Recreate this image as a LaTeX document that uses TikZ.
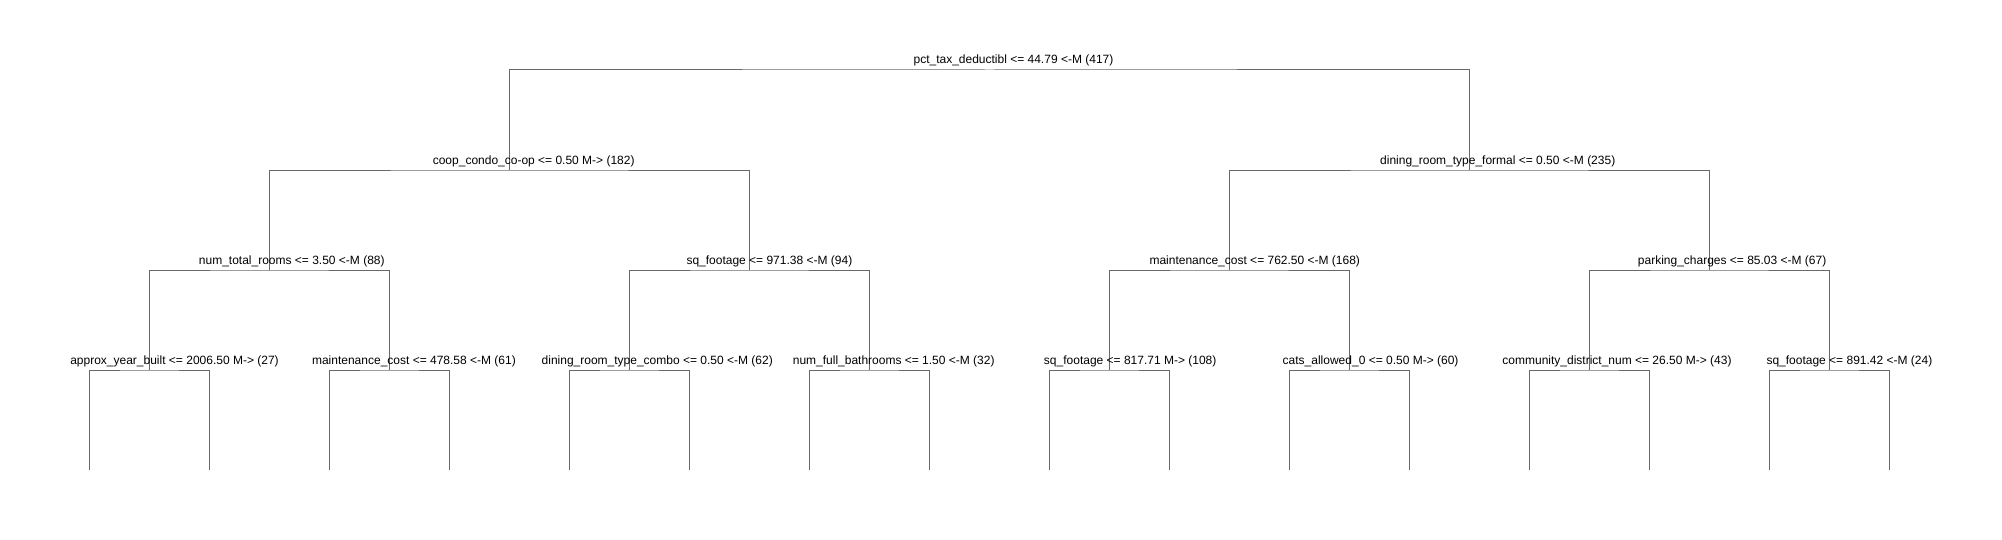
\documentclass[tikz,border=0pt]{standalone}
\usepackage{fontspec}
\newfontfamily\treefont{Liberation Sans}
\definecolor{branchgray}{RGB}{105,105,105}
% split text sits a little right of its split point
\newcommand{\splittext}[1]{\setbox0=\hbox{#1}\hspace*{0.24\wd0}\box0}
\tikzset{
  branch/.style={draw=branchgray, line width=0.5pt},
  splitlabel/.style={anchor=base, inner sep=0pt, text=black,
    font=\treefont\fontsize{6}{7}\selectfont}
}
\begin{document}
\begin{tikzpicture}[x=0.5pt, y=-0.5pt]
    \useasboundingbox (0,0) rectangle (2002,540);
    % split points
    \coordinate (root) at (989.5,70);
    \coordinate (coop) at (509.5,170);
    \coordinate (dining) at (1469.5,170);
    \coordinate (rooms) at (269.5,270);
    \coordinate (sqft) at (749.5,270);
    \coordinate (maint) at (1229.5,270);
    \coordinate (parking) at (1709.5,270);
    \coordinate (year) at (149.5,370);
    \coordinate (maintlow) at (389.5,370);
    \coordinate (combo) at (629.5,370);
    \coordinate (baths) at (869.5,370);
    \coordinate (sqftlow) at (1109.5,370);
    \coordinate (cats) at (1349.5,370);
    \coordinate (district) at (1589.5,370);
    \coordinate (sqfthigh) at (1829.5,370);
    % leaves
    \coordinate (l1) at (89.5,470);
    \coordinate (l2) at (209.5,470);
    \coordinate (l3) at (329.5,470);
    \coordinate (l4) at (449.5,470);
    \coordinate (l5) at (569.5,470);
    \coordinate (l6) at (689.5,470);
    \coordinate (l7) at (809.5,470);
    \coordinate (l8) at (929.5,470);
    \coordinate (l9) at (1049.5,470);
    \coordinate (l10) at (1169.5,470);
    \coordinate (l11) at (1289.5,470);
    \coordinate (l12) at (1409.5,470);
    \coordinate (l13) at (1529.5,470);
    \coordinate (l14) at (1649.5,470);
    \coordinate (l15) at (1769.5,470);
    \coordinate (l16) at (1889.5,470);
    % branches
    \draw[branch] (coop) |- (root) -| (dining);
    \draw[branch] (rooms) |- (coop) -| (sqft);
    \draw[branch] (maint) |- (dining) -| (parking);
    \draw[branch] (year) |- (rooms) -| (maintlow);
    \draw[branch] (combo) |- (sqft) -| (baths);
    \draw[branch] (sqftlow) |- (maint) -| (cats);
    \draw[branch] (district) |- (parking) -| (sqfthigh);
    \draw[branch] (l1) |- (year) -| (l2);
    \draw[branch] (l3) |- (maintlow) -| (l4);
    \draw[branch] (l5) |- (combo) -| (l6);
    \draw[branch] (l7) |- (baths) -| (l8);
    \draw[branch] (l9) |- (sqftlow) -| (l10);
    \draw[branch] (l11) |- (cats) -| (l12);
    \draw[branch] (l13) |- (district) -| (l14);
    \draw[branch] (l15) |- (sqfthigh) -| (l16);
    % split texts
    \node[splitlabel] (root-t) at ([yshift=3pt]root) {\splittext{pct\_tax\_deductibl <= 44.79 <-M (417)}};
    \node[splitlabel] (coop-t) at ([yshift=3pt]coop) {\splittext{coop\_condo\_co-op <= 0.50 M-> (182)}};
    \node[splitlabel] (dining-t) at ([yshift=3pt]dining) {\splittext{dining\_room\_type\_formal <= 0.50 <-M (235)}};
    \node[splitlabel] (rooms-t) at ([yshift=3pt]rooms) {\splittext{num\_total\_rooms <= 3.50 <-M (88)}};
    \node[splitlabel] (sqft-t) at ([yshift=3pt]sqft) {\splittext{sq\_footage <= 971.38 <-M (94)}};
    \node[splitlabel] (maint-t) at ([yshift=3pt]maint) {\splittext{maintenance\_cost <= 762.50 <-M (168)}};
    \node[splitlabel] (parking-t) at ([yshift=3pt]parking) {\splittext{parking\_charges <= 85.03 <-M (67)}};
    \node[splitlabel] (year-t) at ([yshift=3pt]year) {\splittext{approx\_year\_built <= 2006.50 M-> (27)}};
    \node[splitlabel] (maintlow-t) at ([yshift=3pt]maintlow) {\splittext{maintenance\_cost <= 478.58 <-M (61)}};
    \node[splitlabel] (combo-t) at ([yshift=3pt]combo) {\splittext{dining\_room\_type\_combo <= 0.50 <-M (62)}};
    \node[splitlabel] (baths-t) at ([yshift=3pt]baths) {\splittext{num\_full\_bathrooms <= 1.50 <-M (32)}};
    \node[splitlabel] (sqftlow-t) at ([yshift=3pt]sqftlow) {\splittext{sq\_footage <= 817.71 M-> (108)}};
    \node[splitlabel] (cats-t) at ([yshift=3pt]cats) {\splittext{cats\_allowed\_0 <= 0.50 M-> (60)}};
    \node[splitlabel] (district-t) at ([yshift=3pt]district) {\splittext{community\_district\_num <= 26.50 M-> (43)}};
    \node[splitlabel] (sqfthigh-t) at ([yshift=3pt]sqfthigh) {\splittext{sq\_footage <= 891.42 <-M (24)}};
\end{tikzpicture}
\end{document}
